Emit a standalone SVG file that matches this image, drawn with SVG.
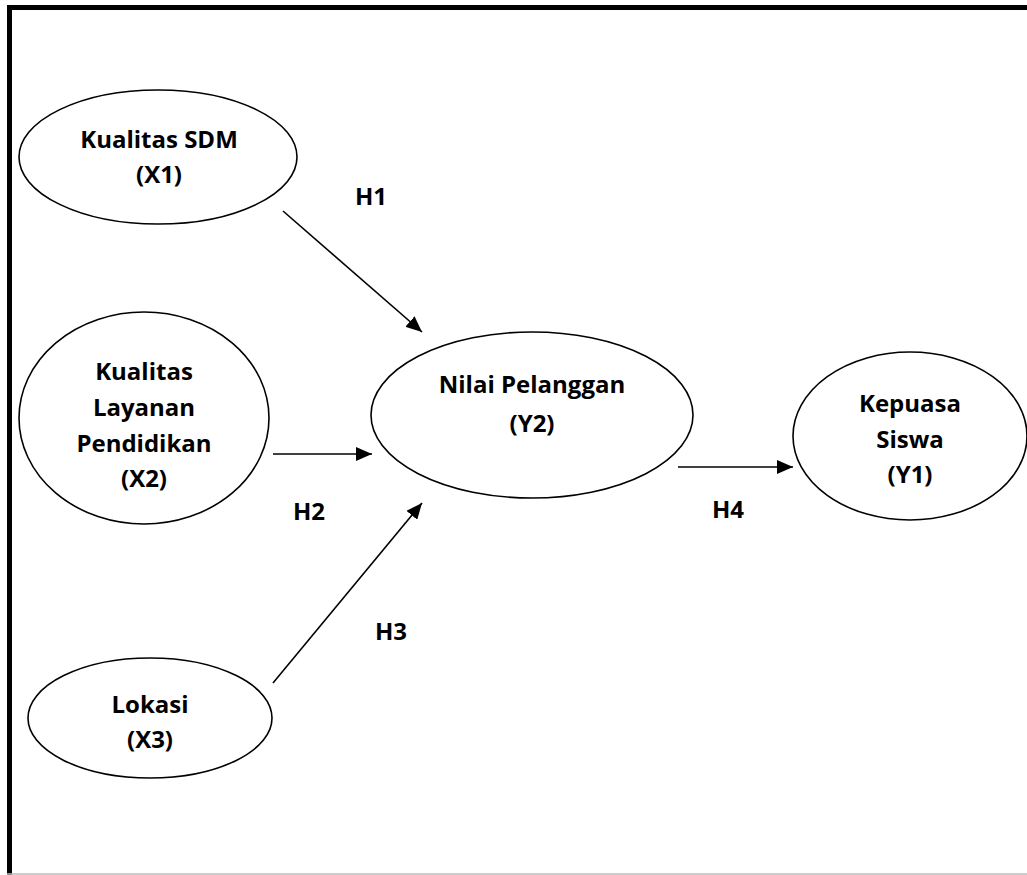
<svg xmlns="http://www.w3.org/2000/svg" width="1027" height="875" viewBox="0 0 1027 875">
<style>
.n{fill:#fff;stroke:#000;stroke-width:1.6}
.t{font-family:"Open Sans",Lato,sans-serif;font-weight:bold;font-size:24px;fill:#000;text-anchor:middle}
.c{stroke:#000;stroke-width:1.6;fill:none;marker-end:url(#ah)}
</style>
<defs>
<marker id="ah" markerUnits="userSpaceOnUse" markerWidth="16" markerHeight="14" refX="16" refY="7" orient="auto">
<path d="M0,0 L16,7 L0,14 Z" fill="#000"/>
</marker>
</defs>
<rect width="1027" height="875" fill="#fff"/>
<g id="frame">
<line x1="7" y1="7.5" x2="1027" y2="7.5" stroke="#000" stroke-width="5"/>
<line x1="9.5" y1="5" x2="9.5" y2="875" stroke="#000" stroke-width="5"/>
<line x1="7" y1="874" x2="1027" y2="874" stroke="#bbb" stroke-width="1.5"/>
</g>
<g id="connectors">
<line class="c" x1="283" y1="211" x2="422" y2="332"/>
<line class="c" x1="273" y1="454" x2="372" y2="454"/>
<line class="c" x1="273" y1="683" x2="422" y2="503"/>
<line class="c" x1="678" y1="467" x2="793" y2="467"/>
<text class="t" x="371" y="205">H1</text>
<text class="t" x="309" y="520">H2</text>
<text class="t" x="391" y="640">H3</text>
<text class="t" x="728" y="518">H4</text>
</g>
<g id="x1">
<ellipse class="n" cx="158" cy="157" rx="139" ry="67"/>
<text class="t" x="159" y="148">Kualitas SDM</text>
<text class="t" x="159" y="183">(X1)</text>
</g>
<g id="x2">
<ellipse class="n" cx="144" cy="418" rx="125" ry="106"/>
<text class="t" x="144" y="380">Kualitas</text>
<text class="t" x="144" y="416">Layanan</text>
<text class="t" x="144" y="452">Pendidikan</text>
<text class="t" x="144" y="487">(X2)</text>
</g>
<g id="x3">
<ellipse class="n" cx="150" cy="718" rx="122" ry="60"/>
<text class="t" x="150" y="713">Lokasi</text>
<text class="t" x="150" y="748">(X3)</text>
</g>
<g id="y2">
<ellipse class="n" cx="532" cy="415" rx="161" ry="83"/>
<text class="t" x="532" y="393">Nilai Pelanggan</text>
<text class="t" x="532" y="432">(Y2)</text>
</g>
<g id="y1">
<ellipse class="n" cx="910" cy="436" rx="117" ry="84"/>
<text class="t" x="910" y="412">Kepuasa</text>
<text class="t" x="910" y="448">Siswa</text>
<text class="t" x="910" y="483">(Y1)</text>
</g>
</svg>
